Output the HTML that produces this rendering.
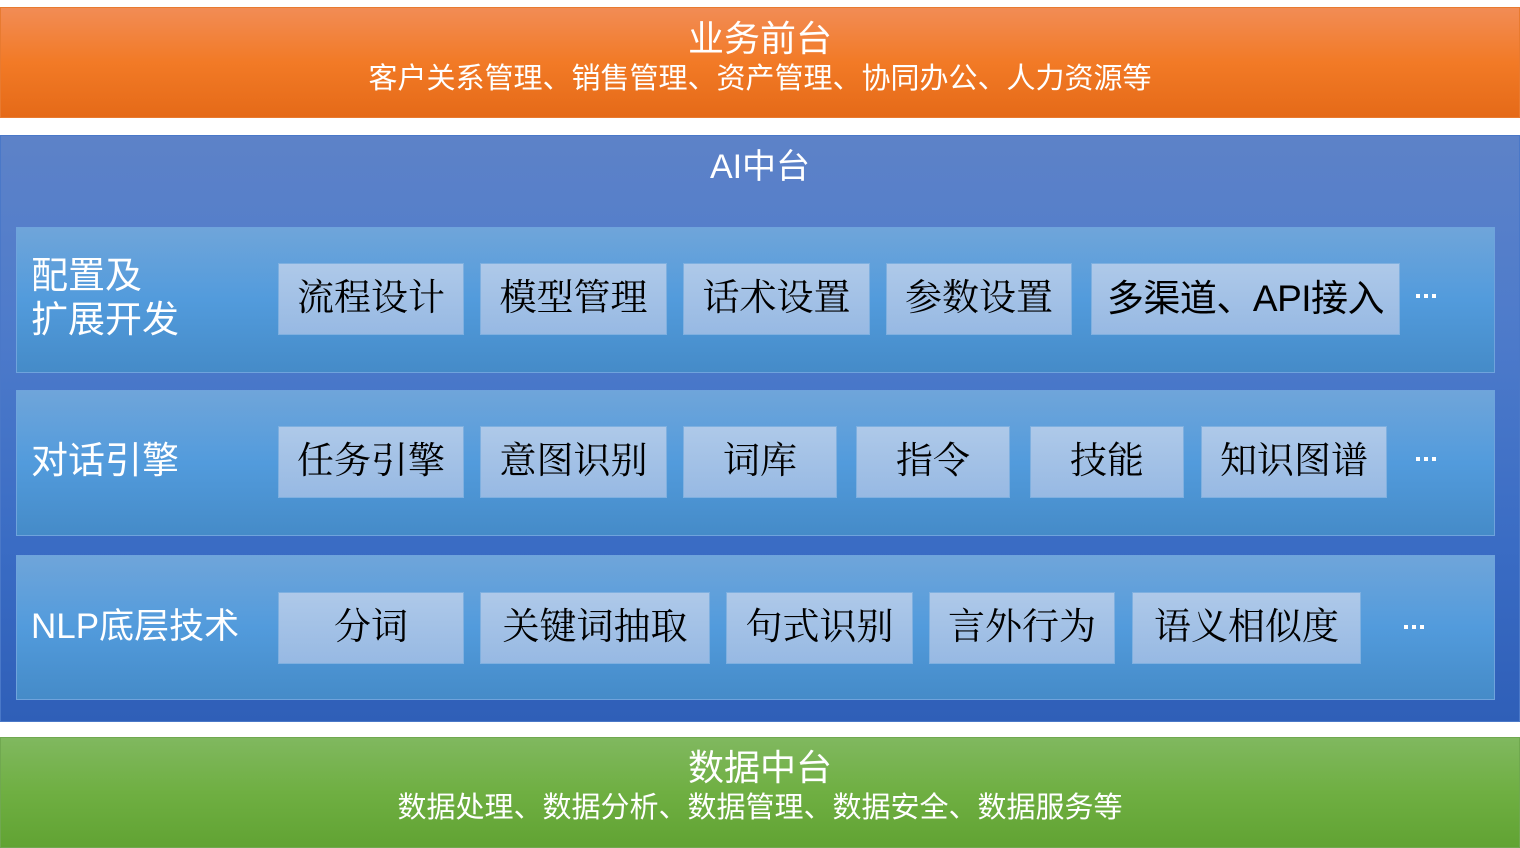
<!DOCTYPE html>
<html><head><meta charset="utf-8"><style>
*{margin:0;padding:0;box-sizing:border-box}
body{width:1520px;height:848px;background:#fff;position:relative;overflow:hidden;font-family:"Liberation Sans","Noto Sans CJK SC",sans-serif}
.a{position:absolute}
.band{left:0;width:1520px;color:#fff;text-align:center}
.t1{font-size:36px;line-height:40px}
.t2{font-size:29px;line-height:34px}
.row{left:16px;width:1479px;border:1px solid #6fa3dc;background:linear-gradient(#6fa5da,#529bdc 50%,#458bc8)}
.lab{color:#fff;font-size:37px;line-height:44px}
.b{height:72px;border:1px solid #7fb0e0;background:linear-gradient(#aec9e9,#97b9e3);color:#000;font-family:"Liberation Serif","Noto Serif CJK SC","Noto Sans CJK SC",serif;font-size:37px;line-height:70px;text-align:center;white-space:nowrap}
.d{width:20px;height:4px;background:linear-gradient(90deg,#fff 0 4px,transparent 4px 8px,#fff 8px 12px,transparent 12px 16px,#fff 16px 20px)}
</style></head><body>
<div class="a band" style="top:7px;height:111px;background:linear-gradient(#f28c55,#f27a26 50%,#e56a18);border:1px solid #e87a30">
<div class="t1" style="margin-top:11px">业务前台</div>
<div class="t2" style="margin-top:3px">客户关系管理、销售管理、资产管理、协同办公、人力资源等</div>
</div>
<div class="a band" style="top:135px;height:587px;background:linear-gradient(#5d82c8,#4f7ccb 30%,#3a6cc4 70%,#2f5fb8);border:1px solid #4a78c8">
<div class="t1" style="margin-top:11px;font-size:34px">AI中台</div>
</div>
<div class="a row" style="top:227px;height:146px"></div>
<div class="a row" style="top:390px;height:146px"></div>
<div class="a row" style="top:555px;height:145px"></div>
<div class="a lab" style="left:31px;top:254px">配置及<br>扩展开发</div>
<div class="a lab" style="left:31px;top:439px">对话引擎</div>
<div class="a lab" style="left:31px;top:605px;font-size:35px">NLP底层技术</div>

<div class="a b" style="top:263px;left:278px;width:186px">流程设计</div>
<div class="a b" style="top:263px;left:480px;width:187px">模型管理</div>
<div class="a b" style="top:263px;left:683px;width:187px">话术设置</div>
<div class="a b" style="top:263px;left:886px;width:186px">参数设置</div>
<div class="a b" style="top:263px;left:1091px;width:309px;font-family:'Liberation Sans','Noto Sans CJK SC',sans-serif;letter-spacing:-0.5px">多渠道、API接入</div>
<div class="a d" style="top:294px;left:1416px"></div>

<div class="a b" style="top:426px;left:278px;width:186px">任务引擎</div>
<div class="a b" style="top:426px;left:480px;width:187px">意图识别</div>
<div class="a b" style="top:426px;left:683px;width:154px">词库</div>
<div class="a b" style="top:426px;left:856px;width:154px">指令</div>
<div class="a b" style="top:426px;left:1030px;width:154px">技能</div>
<div class="a b" style="top:426px;left:1201px;width:186px">知识图谱</div>
<div class="a d" style="top:457px;left:1416px"></div>

<div class="a b" style="top:592px;left:278px;width:186px">分词</div>
<div class="a b" style="top:592px;left:480px;width:230px">关键词抽取</div>
<div class="a b" style="top:592px;left:726px;width:187px">句式识别</div>
<div class="a b" style="top:592px;left:929px;width:186px">言外行为</div>
<div class="a b" style="top:592px;left:1132px;width:229px">语义相似度</div>
<div class="a d" style="top:625px;left:1404px"></div>

<div class="a band" style="top:737px;height:111px;background:linear-gradient(#80b85f,#6faf42 50%,#61a333);border:1px solid #70a850">
<div class="t1" style="margin-top:10px">数据中台</div>
<div class="t2" style="margin-top:3px">数据处理、数据分析、数据管理、数据安全、数据服务等</div>
</div>
</body></html>
